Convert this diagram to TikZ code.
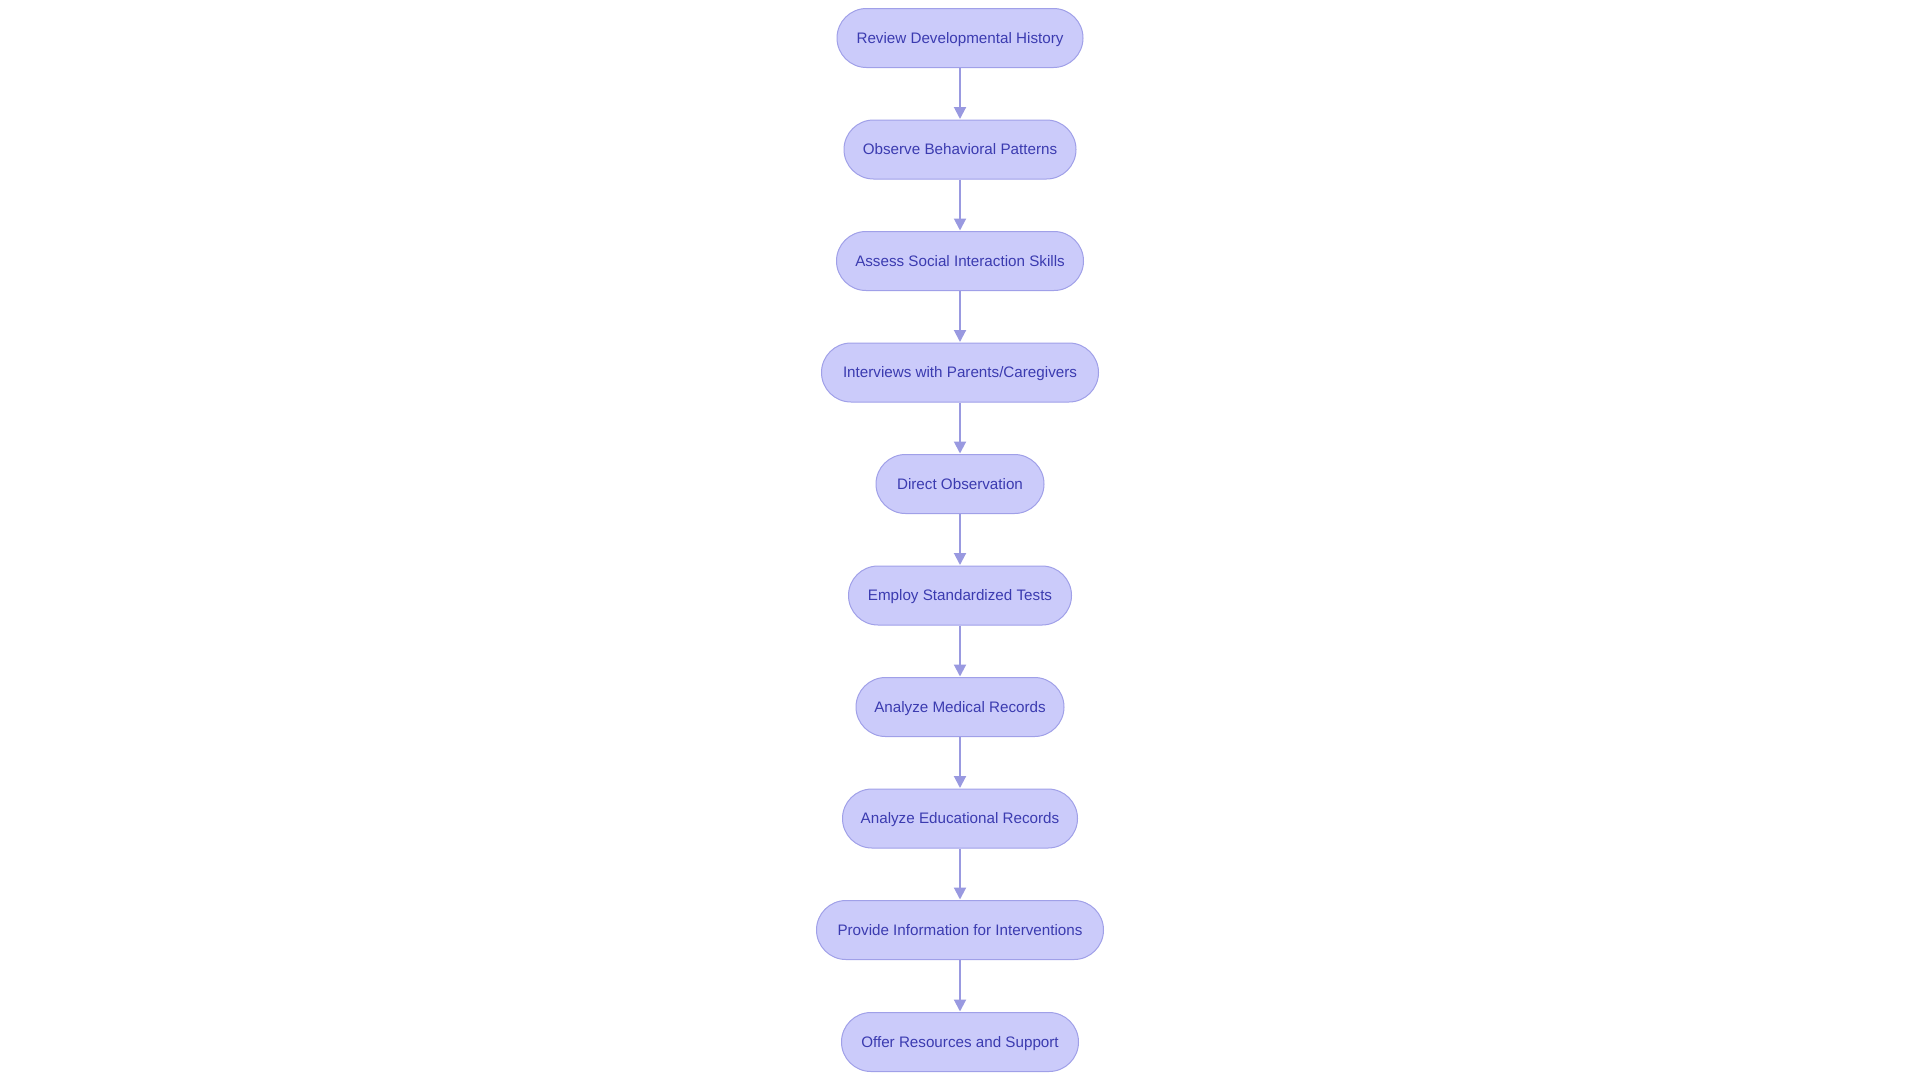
\documentclass[tikz,border=0pt]{standalone}
\usepackage{fontspec}
\setmainfont{Liberation Sans}
\usetikzlibrary{arrows.meta}
\definecolor{nodefill}{HTML}{CBCBFA}
\definecolor{nodedraw}{HTML}{A0A0E8}
\definecolor{nodetext}{HTML}{3B3BB0}
\definecolor{edgecol}{HTML}{9999E0}
\tikzset{
  stage/.style={draw=nodedraw, fill=nodefill, line width=1pt, rounded corners=29.5pt,
    minimum height=59pt, inner sep=0pt, text height=10.9pt, text depth=0pt, text=nodetext,
    font=\fontsize{15.2}{18}\selectfont},
  flow/.style={draw=edgecol, line width=2pt, -{Triangle[length=12pt,width=12pt]}, shorten >=0.5pt}
}
\begin{document}
\begin{tikzpicture}[x=1pt,y=-1pt]
\useasboundingbox (0,0) rectangle (1920,1080);
\node[stage, minimum width=246pt] (n1) at (960,38) {Review Developmental History};
\node[stage, minimum width=232pt] (n2) at (960,149.5) {Observe Behavioral Patterns};
\node[stage, minimum width=247pt] (n3) at (960,261) {Assess Social Interaction Skills};
\node[stage, minimum width=277pt] (n4) at (960,372.5) {Interviews with Parents/Caregivers};
\node[stage, minimum width=168pt] (n5) at (960,484) {Direct Observation};
\node[stage, minimum width=223pt] (n6) at (960,595.5) {Employ Standardized Tests};
\node[stage, minimum width=208pt] (n7) at (960,707) {Analyze Medical Records};
\node[stage, minimum width=235pt] (n8) at (960,818.5) {Analyze Educational Records};
\node[stage, minimum width=287pt] (n9) at (960,930) {Provide Information for Interventions};
\node[stage, minimum width=237pt] (n10) at (960,1042) {Offer Resources and Support};
\foreach \a/\b in {n1/n2,n2/n3,n3/n4,n4/n5,n5/n6,n6/n7,n7/n8,n8/n9,n9/n10}
  \draw[flow] (\a) -- (\b);
\end{tikzpicture}
\end{document}
